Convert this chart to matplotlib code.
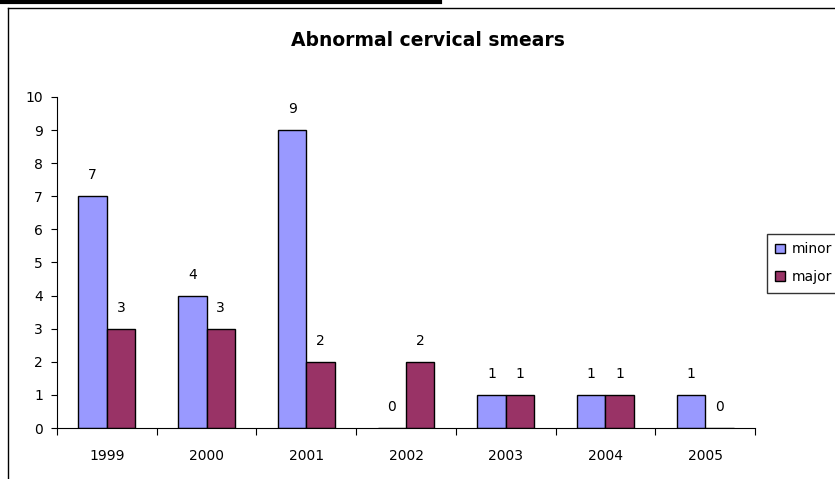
import matplotlib
matplotlib.use("Agg")
import matplotlib.pyplot as plt
import numpy as np
from matplotlib.lines import Line2D

years = ["1999", "2000", "2001", "2002", "2003", "2004", "2005"]
minor = [7, 4, 9, 0, 1, 1, 1]
major = [3, 3, 2, 2, 1, 1, 0]

plt.rcParams['font.family'] = ['DejaVu Sans']

W, H = 835, 479
fig = plt.figure(figsize=(W/100, H/100), dpi=100)
ax = fig.add_axes([57/W, 1-428/H, (755-57)/W, (428-97)/H])

x = np.arange(len(years))
bw = 0.285
ax.bar(x - bw/2, minor, bw, color="#9999FF", edgecolor="black", linewidth=1.0, label="minor")
ax.bar(x + bw/2, major, bw, color="#993366", edgecolor="black", linewidth=1.0, label="major")

for i in range(len(years)):
    ax.annotate(str(minor[i]), (x[i]-bw/2, minor[i]), xytext=(0, 15), textcoords="offset points",
                ha="center", va="center", fontsize=10)
    ax.annotate(str(major[i]), (x[i]+bw/2, major[i]), xytext=(0, 15), textcoords="offset points",
                ha="center", va="center", fontsize=10)

ax.set_xlim(-0.5, len(years)-0.5)
ax.set_ylim(0, 10)
ax.set_yticks(range(0, 11))
ax.tick_params(axis='y', labelsize=10, length=4, direction='out', pad=6)
ax.set_xticks(np.arange(-0.5, len(years)), minor=False)
ax.set_xticklabels([])
ax.set_xticks(x, minor=True)
ax.set_xticklabels(years, minor=True, fontsize=10)
ax.tick_params(axis='x', which='major', length=5, direction='out')
ax.tick_params(axis='x', which='minor', length=0, pad=15)
for s in ["top", "right"]:
    ax.spines[s].set_visible(False)

fig.text(428/W, 1-40/H, "Abnormal cervical smears", ha="center", va="center",
         fontsize=13.5, fontweight="bold")

# frame lines
fig.add_artist(Line2D([8/W, 8/W], [0, 1-8/H], color="black", lw=1))
fig.add_artist(Line2D([8/W, 1], [1-8/H, 1-8/H], color="black", lw=1))
fig.add_artist(Line2D([0, 440/W], [1-2/H, 1-2/H], color="black", lw=3))

fig.legend(loc="upper left", bbox_to_anchor=(767/W, 1-234/H), fontsize=10,
           frameon=True, fancybox=False, edgecolor="black", handlelength=0.7,
           handleheight=0.7, borderpad=0.6, labelspacing=1.0, handletextpad=0.5,
           borderaxespad=0)

fig.savefig("out.png", dpi=100)
